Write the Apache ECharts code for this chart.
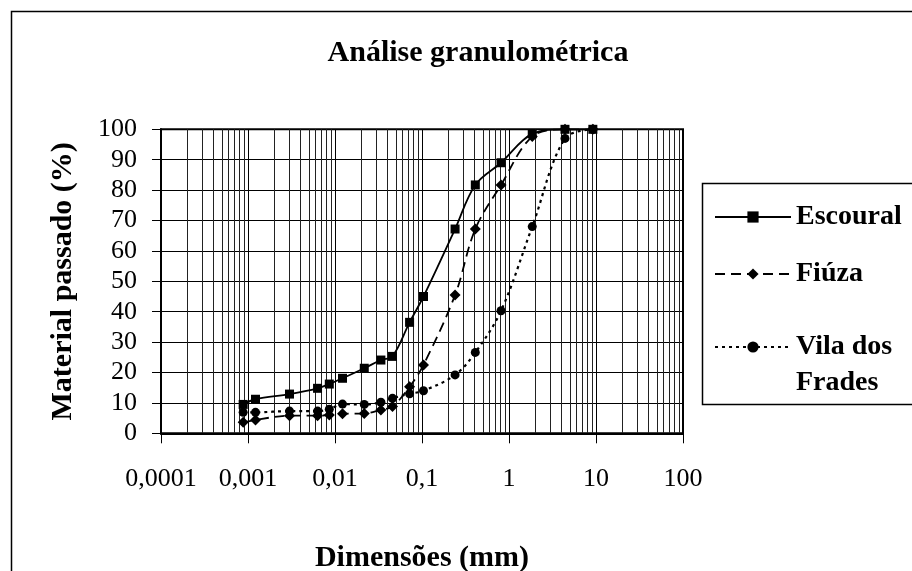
<!DOCTYPE html>
<html>
<head>
<meta charset="utf-8">
<script src="https://cdn.jsdelivr.net/npm/echarts@6/dist/echarts.min.js"></script>
<style>
html,body{margin:0;padding:0;background:#fff;}
#chart{width:912px;height:571px;}
</style>
</head>
<body>
<div id="chart"></div>
<script>
// ---- data ----
const titleText = 'Análise granulométrica';
const xAxisTitle = 'Dimensões (mm)';
const yAxisTitle = 'Material passado (%)';
const seriesNames = ['Escoural', 'Fiúza', 'Vila dos Frades'];
const sizes = [0.00088, 0.00122, 0.0030, 0.0063, 0.0086, 0.0122, 0.0217, 0.0337, 0.0458, 0.072, 0.104, 0.24, 0.41, 0.81, 1.85, 4.4, 9.2];
const escoural = [9.5, 11.2, 12.9, 14.8, 16.2, 18.1, 21.4, 24.1, 25.3, 36.5, 45.0, 67.2, 81.7, 89.0, 98.5, 100, 100];
const fiuza = [3.6, 4.4, 5.8, 5.8, 6.0, 6.4, 6.5, 7.7, 8.8, 15.3, 22.5, 45.5, 67.2, 81.7, 97.6, 100, 100];
const vila = [6.9, 6.9, 7.3, 7.3, 7.9, 9.6, 9.5, 10.2, 11.5, 13.0, 14.0, 19.2, 26.6, 40.3, 68.0, 97.0, 100];
const xTickLabels = ['0,0001', '0,001', '0,01', '0,1', '1', '10', '100'];
const xMin = 0.0001, xMax = 100;
const yMin = 0, yMax = 100, yStep = 10;

const FONT = '"Liberation Serif", "Times New Roman", serif';
const pair = (ys) => sizes.map((x, i) => [x, ys[i]]);

const chart = echarts.init(document.getElementById('chart'), null, { renderer: 'canvas' });

const legendText = { fontFamily: FONT, fontSize: 28, fontWeight: 'bold', color: '#000', lineHeight: 36 };
const legendCommon = {
  orient: 'vertical',
  left: 714,
  padding: 0,
  itemWidth: 76,
  itemHeight: 14,
  textStyle: legendText,
  selectedMode: false
};

chart.setOption({
  animation: false,
  backgroundColor: '#fff',
  title: {
    text: titleText,
    left: 473,
    textAlign: 'center',
    top: 33,
    textStyle: { fontFamily: FONT, fontSize: 30, fontWeight: 'bold', color: '#000' }
  },
  graphic: [
    { type: 'rect', left: 9, top: 9, shape: { x: 0, y: 0, width: 1000, height: 1000 }, style: { fill: 'none', stroke: '#000', lineWidth: 1.5 }, silent: true, z: -10 },
    { type: 'rect', left: 700, top: 181, shape: { x: 0, y: 0, width: 300, height: 221 }, style: { fill: 'none', stroke: '#000', lineWidth: 1.5 }, silent: true, z: -10 }
  ],
  legend: [
    Object.assign({}, legendCommon, { top: 199, data: [seriesNames[0]] }),
    Object.assign({}, legendCommon, { top: 256, data: [seriesNames[1]] }),
    Object.assign({}, legendCommon, {
      top: 293,
      data: [seriesNames[2]],
      formatter: (n) => '\nVila dos\nFrades'
    })
  ],
  grid: {
    left: 161, right: 229, top: 129.3, bottom: 137.7,
    outerBoundsMode: 'none',
    containLabel: false,
    show: true, borderColor: '#000', borderWidth: 2, backgroundColor: 'transparent'
  },
  xAxis: {
    type: 'log',
    logBase: 10,
    min: xMin,
    max: xMax,
    name: xAxisTitle,
    nameLocation: 'middle',
    nameGap: 110,
    nameTextStyle: { fontFamily: FONT, fontSize: 30, fontWeight: 'bold', color: '#000' },
    axisLine: { onZero: false, lineStyle: { color: '#000', width: 2 } },
    axisTick: { show: true, inside: false, length: 10, lineStyle: { color: '#000', width: 1 } },
    axisLabel: {
      margin: 33,
      fontFamily: FONT, fontSize: 26, color: '#000',
      formatter: (v) => xTickLabels[Math.round(Math.log10(v)) + 4]
    },
    splitLine: { show: true, lineStyle: { color: '#000', width: 1 } },
    minorTick: { show: false, splitNumber: 9 },
    minorSplitLine: { show: true, lineStyle: { color: '#222', width: 1 } }
  },
  yAxis: {
    type: 'value',
    min: yMin, max: yMax, interval: yStep,
    name: yAxisTitle,
    nameLocation: 'middle',
    nameRotate: 90,
    nameGap: 83,
    nameTextStyle: { fontFamily: FONT, fontSize: 30, fontWeight: 'bold', color: '#000' },
    axisLine: { show: true, lineStyle: { color: '#000', width: 2 } },
    axisTick: { show: true, inside: false, length: 9, lineStyle: { color: '#000', width: 1 } },
    axisLabel: { margin: 24, fontFamily: FONT, fontSize: 26, color: '#000' },
    splitLine: { show: true, lineStyle: { color: '#000', width: 1 } }
  },
  series: [
    {
      name: seriesNames[0], type: 'line', data: pair(escoural), z: 5,
      smooth: 0.35, symbol: 'rect', symbolSize: 9,
      lineStyle: { color: '#000', width: 1.8, type: 'solid' },
      itemStyle: { color: '#000' }
    },
    {
      name: seriesNames[1], type: 'line', data: pair(fiuza), z: 5,
      smooth: 0.35, symbol: 'diamond', symbolSize: 11,
      lineStyle: { color: '#000', width: 1.8, type: [10, 6] },
      itemStyle: { color: '#000' }
    },
    {
      name: seriesNames[2], type: 'line', data: pair(vila), z: 5,
      smooth: 0.35, symbol: 'circle', symbolSize: 9,
      lineStyle: { color: '#000', width: 2.2, type: [3, 4] },
      itemStyle: { color: '#000' }
    }
  ]
});
</script>
</body>
</html>
